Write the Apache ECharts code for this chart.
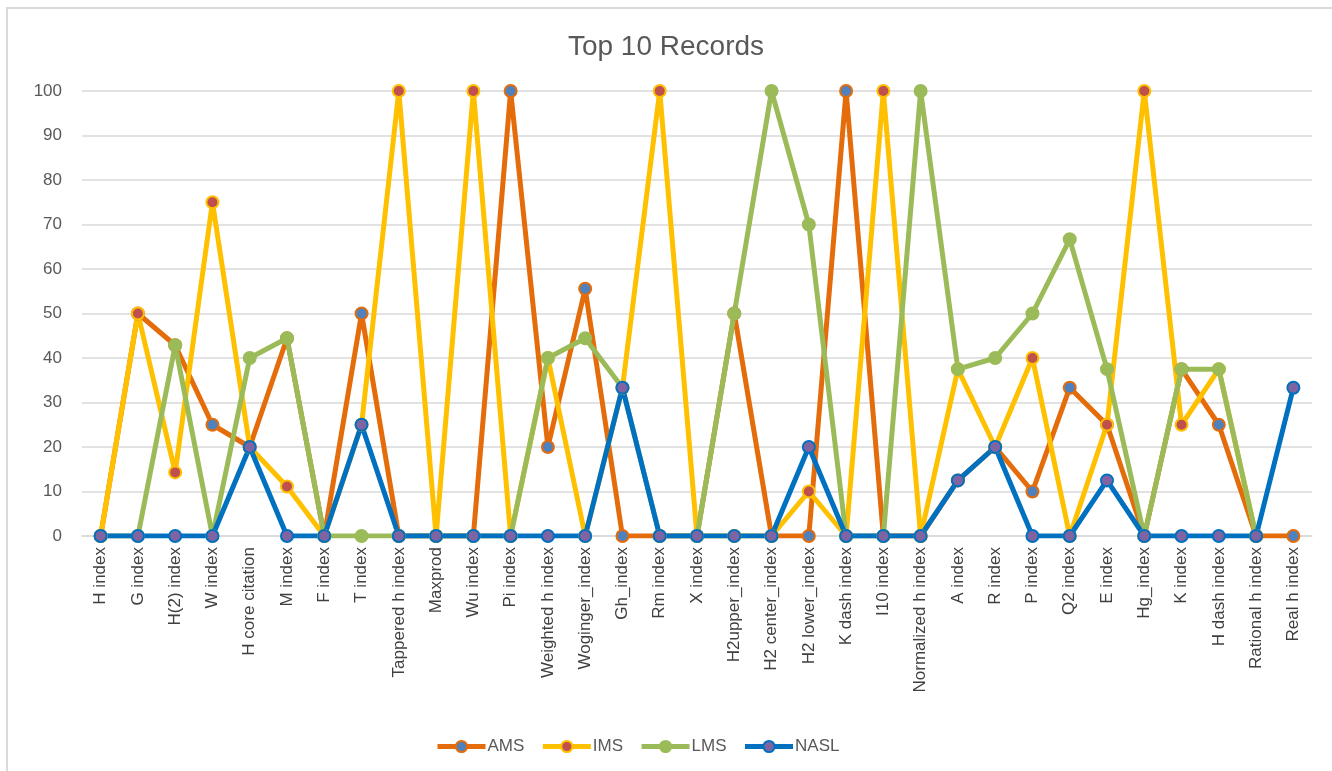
<!DOCTYPE html>
<html>
<head>
<meta charset="utf-8">
<title>Top 10 Records</title>
<script src="https://cdn.jsdelivr.net/npm/echarts@6/dist/echarts.min.js"></script>
<style>
  html, body { margin: 0; padding: 0; background: #ffffff; }
  #chart { width: 1332px; height: 771px; }
</style>
</head>
<body>
<div id="chart"></div>
<script>
// Index names along the x axis
const categories = [
  'H index', 'G index', 'H(2) index', 'W index', 'H core citation', 'M index',
  'F index', 'T index', 'Tappered h index', 'Maxprod', 'Wu index', 'Pi index',
  'Weighted h index', 'Woginger_index', 'Gh_index', 'Rm index', 'X index',
  'H2upper_index', 'H2 center_index', 'H2 lower_index', 'K dash index',
  'I10 index', 'Normalized h index', 'A index', 'R index', 'P index',
  'Q2 index', 'E index', 'Hg_index', 'K index', 'H dash index',
  'Rational h index', 'Real h index'
];

// Scores per index for each source
const ams = [0, 50, 42.86, 25, 20, 44.44, 0, 50, 0, 0, 0, 100, 20, 55.56, 0, 0, 0,
  50, 0, 0, 100, 0, 0, 12.5, 20, 10, 33.33, 25, 0, 37.5, 25, 0, 0];
const ims = [0, 50, 14.29, 75, 20, 11.11, 0, 25, 100, 0, 100, 0, 40, 0, 33.33, 100, 0,
  0, 0, 10, 0, 100, 0, 37.5, 20, 40, 0, 25, 100, 25, 37.5, 0, null];
const lms = [0, 0, 42.86, 0, 40, 44.44, 0, 0, 0, 0, 0, 0, 40, 44.44, 33.33, 0, 0,
  50, 100, 70, 0, 0, 100, 37.5, 40, 50, 66.67, 37.5, 0, 37.5, 37.5, 0, null];
const nasl = [0, 0, 0, 0, 20, 0, 0, 25, 0, 0, 0, 0, 0, 0, 33.33, 0, 0,
  0, 0, 20, 0, 0, 0, 12.5, 20, 0, 0, 12.5, 0, 0, 0, 0, 33.33];

// Value axis ticks
const yMin = 0, yMax = 100, yStep = 10;

const FONT = '"Liberation Sans", Arial, sans-serif';

function lineSeries(name, data, lineColor, fillColor) {
  return {
    name: name,
    type: 'line',
    data: data,
    symbol: 'circle',
    symbolSize: 12,
    showAllSymbol: true,
    connectNulls: false,
    lineStyle: { color: lineColor, width: 5 },
    itemStyle: { color: fillColor, borderColor: lineColor, borderWidth: 2 },
    emphasis: { disabled: true }
  };
}

const chart = echarts.init(document.getElementById('chart'), null, { renderer: 'canvas' });

chart.setOption({
  animation: false,
  backgroundColor: '#ffffff',
  graphic: [{
    type: 'rect',
    silent: true,
    shape: { x: 7, y: 8, width: 1340, height: 780 },
    style: { fill: 'none', stroke: '#d9d9d9', lineWidth: 2 }
  }],
  title: {
    text: 'Top 10 Records',
    left: 'center',
    top: 28,
    textStyle: { fontFamily: FONT, fontSize: 28, fontWeight: 'normal', color: '#595959' }
  },
  legend: {
    left: 430,
    top: 733,
    itemWidth: 48,
    itemHeight: 14,
    itemGap: 16,
    lineStyle: { width: 5 },
    textStyle: { fontFamily: FONT, fontSize: 17, color: '#595959', padding: [0, 0, 0, -3] },
    data: ['AMS', 'IMS', 'LMS', 'NASL']
  },
  grid: { left: 82, right: 20, top: 91, bottom: 235 },
  xAxis: {
    type: 'category',
    data: categories,
    boundaryGap: true,
    axisLine: { lineStyle: { color: '#d9d9d9', width: 1.5 } },
    axisTick: { show: false },
    axisLabel: {
      interval: 0,
      rotate: 90,
      margin: 11,
      fontFamily: FONT,
      fontSize: 17,
      color: '#404040'
    }
  },
  yAxis: {
    type: 'value',
    min: yMin,
    max: yMax,
    interval: yStep,
    axisLine: { show: false },
    axisTick: { show: false },
    splitLine: { lineStyle: { color: '#d9d9d9', width: 1.5 } },
    axisLabel: { margin: 20, fontFamily: FONT, fontSize: 17, color: '#595959' }
  },
  series: [
    lineSeries('AMS', ams, '#E46C0A', '#4F81BD'),
    lineSeries('IMS', ims, '#FFC000', '#C0504D'),
    lineSeries('LMS', lms, '#9BBB59', '#9BBB59'),
    lineSeries('NASL', nasl, '#0070C0', '#8064A2')
  ]
});
</script>
</body>
</html>
